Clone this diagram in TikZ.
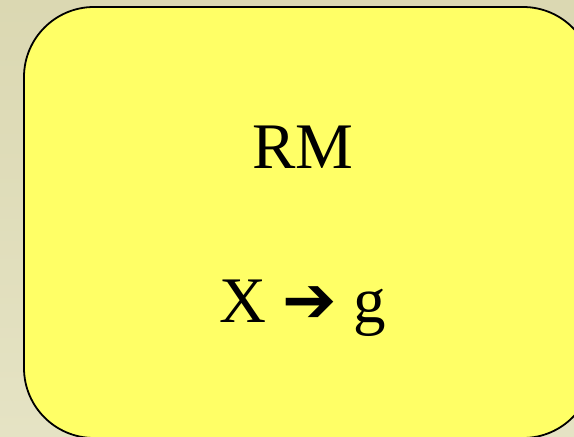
\documentclass[tikz,border=0pt]{standalone}
\usepackage{fontspec}
\setmainfont{Liberation Serif}
\newfontfamily\arrowfont{DejaVu Sans}
\definecolor{BackTop}{RGB}{219,216,178}
\definecolor{BackBottom}{RGB}{229,227,196}
\definecolor{PanelColor}{RGB}{255,255,102}
\usetikzlibrary{positioning}

\begin{document}
\begin{tikzpicture}[x=1pt, y=1pt,
    panel/.style={draw=black, line width=1.8pt, fill=PanelColor, rounded corners=70pt},
    label/.style={font=\fontsize{65}{78}\selectfont, inner sep=0pt, anchor=base}]
          \useasboundingbox (0,0) rectangle (574,437);
          \clip (0,0) rectangle (574,437);
          \shade[top color=BackTop, bottom color=BackBottom] (0,0) rectangle (574,437);
          \draw[panel] (24,-1) rectangle (593,430);
          \node[label] (title) at (303,268) {RM};
          \node[label] (rule) at (303,114) {X {\arrowfont ➔} g};
        \end{tikzpicture}
\end{document}
